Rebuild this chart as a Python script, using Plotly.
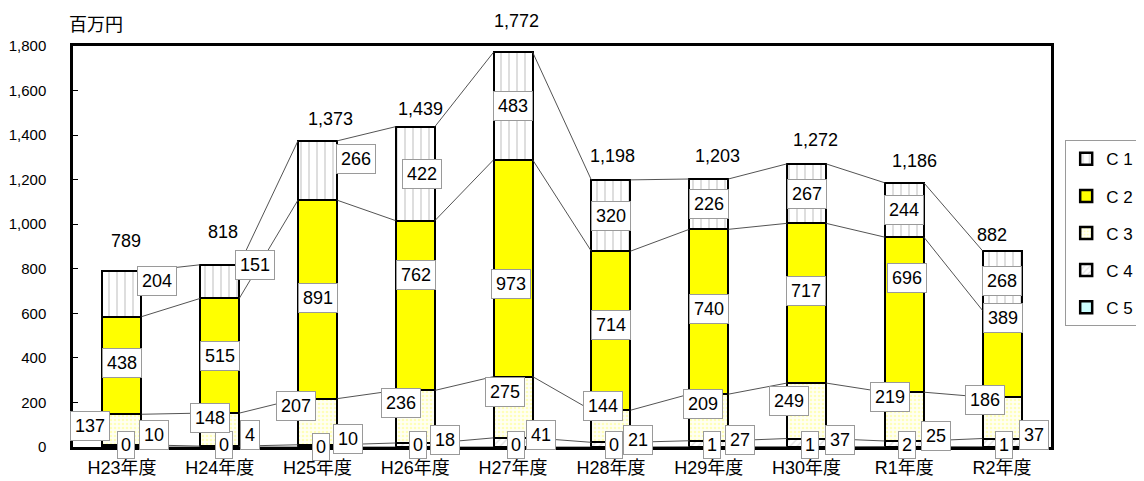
import plotly.graph_objects as go

# ---------------- data ----------------
categories = ["H23年度", "H24年度", "H25年度", "H26年度", "H27年度",
              "H28年度", "H29年度", "H30年度", "R1年度", "R2年度"]
c1 = [204, 151, 266, 422, 483, 320, 226, 267, 244, 268]
c2 = [438, 515, 891, 762, 973, 714, 740, 717, 696, 389]
c3 = [137, 148, 207, 236, 275, 144, 209, 249, 219, 186]
c4 = [10, 4, 10, 18, 41, 21, 27, 37, 25, 37]
c5 = [0, 0, 0, 0, 0, 0, 1, 1, 2, 1]
totals = [789, 818, 1373, 1439, 1772, 1198, 1203, 1272, 1186, 882]
series_names = ["C 1", "C 2", "C 3", "C 4", "C 5"]
y_ticks = [0, 200, 400, 600, 800, 1000, 1200, 1400, 1600, 1800]
unit_label = "百万円"

# ---------------- label placement nudges (pixels; dy>0 = up) ----------------
nudge_c1 = [(35, 13), (35, 17), (38, 12), (7, 0), (0, 0), (0, 0), (0, 0), (0, 0), (0, 0), (0, 0)]
nudge_c2 = [(0, 2), (0, 0), (0, 1), (1, 31), (-2, -16), (0, 6), (0, 3), (-1, 12), (3, 37), (1, 36)]
nudge_c3 = [(-32, 4), (-10, 12), (-22, 16), (-14, 14), (-8, 15), (-8, 20), (-6, 13), (-18, 10), (-14, 20), (-17, 18)]
nudge_c4 = [(32, 11), (30, 12), (30, 7), (30, 5), (28, 7), (27, 5), (31, 4), (33, 3), (32, 8), (32, 8)]
nudge_c5 = [(4, 2), (4, 2), (3, 0), (3, 2), (3, 2), (3, 2), (3, 2), (3, 2), (3, 2), (2, 2)]
nudge_tot = [(4, 30), (3, 33), (13, 22), (5, 18), (3, 31), (2, 24), (9, 23), (9, 24), (10, 22), (-10, 16)]

BAR_W = 0.4
FONT = "Arial, Liberation Sans, Noto Sans CJK JP, sans-serif"

x = list(range(len(categories)))
stack = [c5, c4, c3, c2, c1]           # bottom -> top
names_bt = ["C 5", "C 4", "C 3", "C 2", "C 1"]
styles = {
    "C 1": dict(color="white", pattern=dict(shape="|", fgcolor="#b4b4b4", bgcolor="white", size=8, solidity=0.22)),
    "C 2": dict(color="#ffff00"),
    "C 3": dict(color="#fffff2", pattern=dict(shape=".", fgcolor="#ffff80", bgcolor="#fffff4", size=4, solidity=0.35)),
    "C 4": dict(color="white", pattern=dict(shape="/", fgcolor="#c8c8c8", bgcolor="white", size=5, solidity=0.3)),
    "C 5": dict(color="#ccffff"),
}

fig = go.Figure()

for vals, nm in zip(stack, names_bt):
    st = styles[nm]
    marker = dict(color=st["color"], line=dict(color="black", width=2.5))
    if "pattern" in st:
        marker["pattern"] = st["pattern"]
    fig.add_trace(go.Bar(x=x, y=vals, name=nm, width=BAR_W, marker=marker,
                         legendgroup=nm, legendrank=series_names.index(nm) + 1,
                         hoverinfo="skip"))

# cumulative boundaries
cums = []
run = [0] * len(x)
for vals in stack:
    run = [a + b for a, b in zip(run, vals)]
    cums.append(list(run))

# series lines (connect segment tops between adjacent bars)
for level in cums:
    lx, ly = [], []
    for i in range(len(x) - 1):
        lx += [x[i] + BAR_W / 2, x[i + 1] - BAR_W / 2, None]
        ly += [level[i], level[i + 1], None]
    fig.add_trace(go.Scatter(x=lx, y=ly, mode="lines", line=dict(color="#404040", width=0.9),
                             showlegend=False, hoverinfo="skip"))

annotations = []
box = dict(showarrow=False, bgcolor="white", bordercolor="#9a9a9a", borderwidth=1,
           font=dict(family=FONT, size=18, color="black"), xanchor="center", yanchor="middle")

nudges = [nudge_c5, nudge_c4, nudge_c3, nudge_c2, nudge_c1]
base = [0] * len(x)
for k, vals in enumerate(stack):
    pad = 3 if k == 0 else 4
    for i in range(len(x)):
        mid = base[i] + vals[i] / 2
        dx, dy = nudges[k][i]
        annotations.append(dict(x=x[i], y=mid, text=str(vals[i]), xshift=dx, yshift=dy,
                                borderpad=pad, **box))
    base = cums[k]

for i in range(len(x)):
    dx, dy = nudge_tot[i]
    annotations.append(dict(x=x[i], y=cums[-1][i], text=f"{totals[i]:,}", xshift=dx, yshift=dy,
                            showarrow=False, font=dict(family=FONT, size=18, color="black"),
                            xanchor="center", yanchor="middle"))

annotations.append(dict(x=-0.5, y=1.0, xref="x", yref="paper", text=unit_label, showarrow=False,
                        xshift=23, yshift=23, font=dict(family="Noto Sans CJK JP", size=18, color="black"),
                        xanchor="center", yanchor="middle"))

fig.update_layout(
    width=1144, height=481, autosize=False,
    margin=dict(l=65, r=101, t=38, b=42),
    paper_bgcolor="white", plot_bgcolor="white",
    barmode="stack", bargap=0,
    font=dict(family=FONT, size=15, color="black"),
    showlegend=True,
    legend=dict(x=1.0145, y=0.765, xanchor="left", yanchor="top",
                bordercolor="#9a9a9a", borderwidth=1, bgcolor="white",
                traceorder="grouped", tracegroupgap=12,
                font=dict(family=FONT, size=17, color="black"),
                itemwidth=30),
    annotations=annotations,
)
fig.update_xaxes(range=[-0.5, len(x) - 0.5], tickvals=x, ticktext=categories, automargin=False,
                 showline=True, linecolor="black", linewidth=2.5, mirror=True,
                 showgrid=False, zeroline=False, ticks="", ticklabelstandoff=3,
                 tickfont=dict(family=FONT, size=18, color="black"))
fig.update_yaxes(range=[0, 1800], tickvals=y_ticks, tickformat=",", automargin=False,
                 showline=True, linecolor="black", linewidth=2.5, mirror=True,
                 showgrid=False, zeroline=False, ticks="inside", ticklen=5, tickcolor="black",
                 ticklabelstandoff=21,
                 tickfont=dict(family=FONT, size=15, color="black"))

fig.write_html("out.html")
